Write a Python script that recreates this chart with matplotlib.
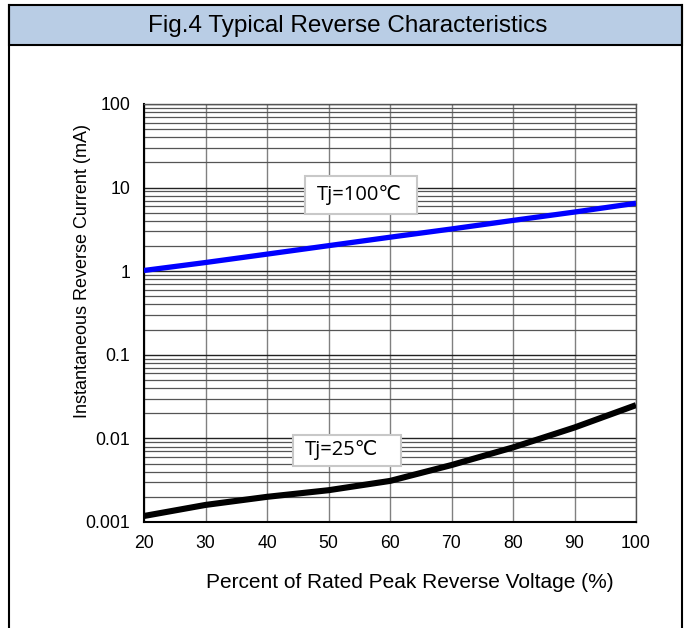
import matplotlib
matplotlib.use("Agg")
import matplotlib.pyplot as plt
from matplotlib.patches import Rectangle
from matplotlib.lines import Line2D
import numpy as np

title = "Fig.4 Typical Reverse Characteristics"
xlabel = "Percent of Rated Peak Reverse Voltage (%)"
ylabel = "Instantaneous Reverse Current (mA)"

voltage_pct = [20, 30, 40, 50, 60, 70, 80, 90, 100]
current_100C = [1.02, 1.27, 1.6, 2.02, 2.55, 3.2, 4.05, 5.1, 6.5]
current_25C = [0.00118, 0.0016, 0.0020, 0.0024, 0.0031, 0.0048, 0.0078, 0.0135, 0.025]
label_100C = "Tj=100℃"
label_25C = "Tj=25℃"

xticks = [20, 30, 40, 50, 60, 70, 80, 90, 100]
yticks = [0.001, 0.01, 0.1, 1, 10, 100]
ytick_labels = ["0.001", "0.01", "0.1", "1", "10", "100"]

plt.rcParams['font.family'] = ['Liberation Sans', 'DejaVu Sans']

fig = plt.figure(figsize=(6.89, 6.28), dpi=100)
W, H = 689, 628

# frame and title band
band = Rectangle((9 / W, 1 - 45 / H), (682 - 9) / W, 40 / H, transform=fig.transFigure,
                 facecolor="#b9cde5", edgecolor="black", linewidth=1.5)
fig.patches.append(band)
for xp in (9, 682):
    fig.lines.append(Line2D([xp / W, xp / W], [0, 1 - 5 / H], transform=fig.transFigure,
                            color="black", linewidth=1.5))
fig.text(348 / W, 1 - 26 / H, title, ha="center", va="center", fontsize=17.5)

ax = fig.add_axes([144 / W, 1 - 522 / H, (636 - 144) / W, (522 - 104) / H])
ax.set_yscale("log")
ax.set_xlim(20, 100)
ax.set_ylim(0.001, 100)

ax.plot(voltage_pct, current_100C, color="#0000ff", linewidth=3.8, solid_capstyle="butt", zorder=5)
ax.plot(voltage_pct, current_25C, color="black", linewidth=4.4, solid_capstyle="butt", zorder=5)

ax.set_xticks(xticks)
ax.set_xticklabels([str(v) for v in xticks])
ax.set_yticks(yticks)
ax.set_yticklabels(ytick_labels)
ax.yaxis.set_minor_locator(matplotlib.ticker.LogLocator(base=10, subs=np.arange(2, 10)))
ax.yaxis.set_minor_formatter(matplotlib.ticker.NullFormatter())

ax.grid(True, which="major", axis="y", color="#222222", linewidth=1.0)
ax.grid(True, which="minor", axis="y", color="#555555", linewidth=0.9)
ax.grid(True, which="major", axis="x", color="#808080", linewidth=1.0)
ax.set_axisbelow(True)

ax.tick_params(axis="y", which="major", length=0, labelsize=12.7, pad=10)
ax.tick_params(axis="y", which="minor", length=0)
ax.tick_params(axis="x", which="major", length=0, labelsize=12.7, pad=9)

for s in ("top", "right"):
    ax.spines[s].set_color("#555555")
    ax.spines[s].set_linewidth(1.0)
for s in ("left", "bottom"):
    ax.spines[s].set_color("black")
    ax.spines[s].set_linewidth(1.5)

ax.set_xlabel(xlabel, fontsize=15)
ax.xaxis.set_label_coords((410 - 144) / 492, -(573 - 522) / 418)
ax.set_ylabel(ylabel, fontsize=13)
ax.yaxis.set_label_coords(-(144 - 91) / 492, (522 - 270.5) / 418)

def label_box(x0, x1, y0, y1, tx, ty, s):
    ax.add_patch(Rectangle((x0, y0), x1 - x0, y1 - y0, transform=ax.transAxes,
                           facecolor="white", edgecolor="#c8c8c8", linewidth=1.5, zorder=6))
    ax.text(tx, ty, s, transform=ax.transAxes, ha="center", va="center", fontsize=14.5,
            family=["Open Sans", "DejaVu Sans"], zorder=7)

label_box(0.327, 0.555, 0.737, 0.828, 0.438, 0.782, label_100C)
label_box(0.303, 0.522, 0.134, 0.208, 0.402, 0.172, label_25C)

fig.savefig("out.png", dpi=100)
